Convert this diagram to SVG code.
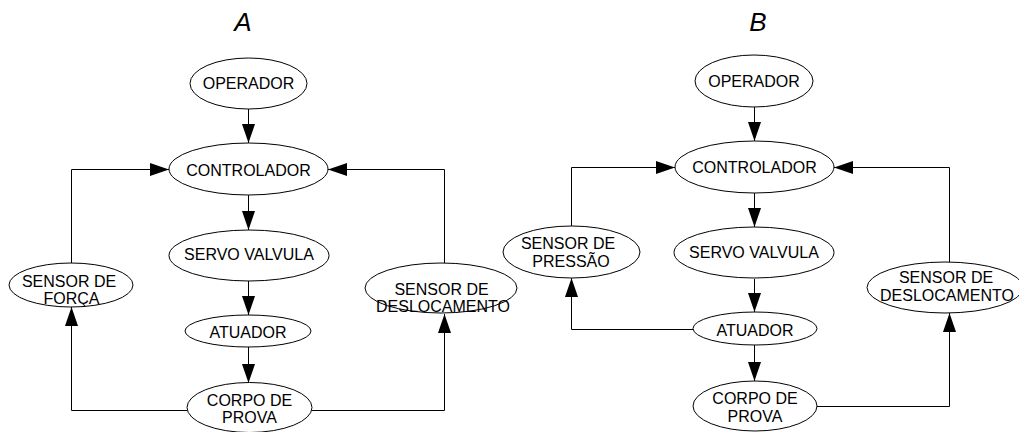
<svg xmlns="http://www.w3.org/2000/svg" width="1019" height="432" viewBox="0 0 1019 432">
<style>
.bg{fill:#fff}
.node ellipse{fill:#fff;stroke:#000;stroke-width:1}
.node text{font-family:"Liberation Sans",Arial,sans-serif;font-size:16px;fill:#000;text-anchor:middle}
.title{font-family:"Liberation Sans",Arial,sans-serif;font-size:26px;font-style:italic;fill:#000;text-anchor:middle}
.edges path{fill:none;stroke:#000;stroke-width:1}
</style>
<defs>
<marker id="arr" markerUnits="userSpaceOnUse" markerWidth="20" markerHeight="14" refX="19" refY="6.5" orient="auto">
<path d="M0,0 L19,6.5 L0,13 z" fill="#000"/>
</marker>
</defs>
<rect class="bg" width="1019" height="432"/>
<text class="title" x="243" y="31">A</text>
<text class="title" x="758" y="31">B</text>

<g class="edges" marker-end="url(#arr)">
<path d="M248.5,109 V143" marker-end="url(#arr)"/>
<path d="M248.5,195 V230" marker-end="url(#arr)"/>
<path d="M248.5,281 V315" marker-end="url(#arr)"/>
<path d="M248.5,347 V383" marker-end="url(#arr)"/>
<path d="M71.5,263 V169.5 H169" marker-end="url(#arr)"/>
<path d="M187,410.5 H71.5 V307" marker-end="url(#arr)"/>
<path d="M444.5,263 V169.5 H328" marker-end="url(#arr)"/>
<path d="M312,410.5 H444.5 V314" marker-end="url(#arr)"/>
<path d="M754.5,107 V141" marker-end="url(#arr)"/>
<path d="M754.5,193 V227" marker-end="url(#arr)"/>
<path d="M754.5,279 V312" marker-end="url(#arr)"/>
<path d="M754.5,345 V381" marker-end="url(#arr)"/>
<path d="M571.5,226 V167.5 H675" marker-end="url(#arr)"/>
<path d="M693,329.5 H571.5 V278" marker-end="url(#arr)"/>
<path d="M949.5,262 V167.5 H834" marker-end="url(#arr)"/>
<path d="M817,406.5 H949.5 V313" marker-end="url(#arr)"/>
</g>

<g id="a-operador" class="node"><ellipse cx="248.5" cy="83.5" rx="58.5" ry="25.5"/><text x="248.5" y="89">OPERADOR</text></g>
<g id="a-controlador" class="node"><ellipse cx="248.5" cy="169" rx="79.5" ry="26"/><text x="248.5" y="175.5">CONTROLADOR</text></g>
<g id="a-servo" class="node"><ellipse cx="249" cy="255.5" rx="80" ry="25.5"/><text x="249" y="260">SERVO VALVULA</text></g>
<g id="a-atuador" class="node"><ellipse cx="248" cy="331" rx="63" ry="16"/><text x="248" y="338">ATUADOR</text></g>
<g id="a-corpo" class="node"><ellipse cx="249.5" cy="407.5" rx="62.5" ry="25"/><text x="249.5" y="406">CORPO DE</text><text x="249.5" y="423">PROVA</text></g>
<g id="a-forca" class="node"><ellipse cx="71" cy="285" rx="62" ry="22"/><text x="69" y="287">SENSOR DE</text><text x="71.5" y="304">FORÇA</text></g>
<g id="a-desloc" class="node"><ellipse cx="441" cy="288" rx="76" ry="25"/><text x="441.5" y="295">SENSOR DE</text><text x="443" y="311.5">DESLOCAMENTO</text></g>

<g id="b-operador" class="node"><ellipse cx="754" cy="81" rx="59" ry="26"/><text x="754" y="87">OPERADOR</text></g>
<g id="b-controlador" class="node"><ellipse cx="754.5" cy="167" rx="79.5" ry="26"/><text x="754.5" y="173">CONTROLADOR</text></g>
<g id="b-servo" class="node"><ellipse cx="754" cy="252.5" rx="80" ry="25.5"/><text x="754" y="258">SERVO VALVULA</text></g>
<g id="b-atuador" class="node"><ellipse cx="755" cy="328.5" rx="62" ry="16.5"/><text x="755" y="335.5">ATUADOR</text></g>
<g id="b-corpo" class="node"><ellipse cx="755" cy="406" rx="62" ry="25"/><text x="755" y="404">CORPO DE</text><text x="755" y="422">PROVA</text></g>
<g id="b-pressao" class="node"><ellipse cx="571.5" cy="252" rx="68.5" ry="26"/><text x="568" y="249">SENSOR DE</text><text x="571" y="266.5">PRESSÃO</text></g>
<g id="b-desloc" class="node"><ellipse cx="945" cy="287.5" rx="78" ry="25.5"/><text x="946" y="283">SENSOR DE</text><text x="947" y="301">DESLOCAMENTO</text></g>
</svg>
